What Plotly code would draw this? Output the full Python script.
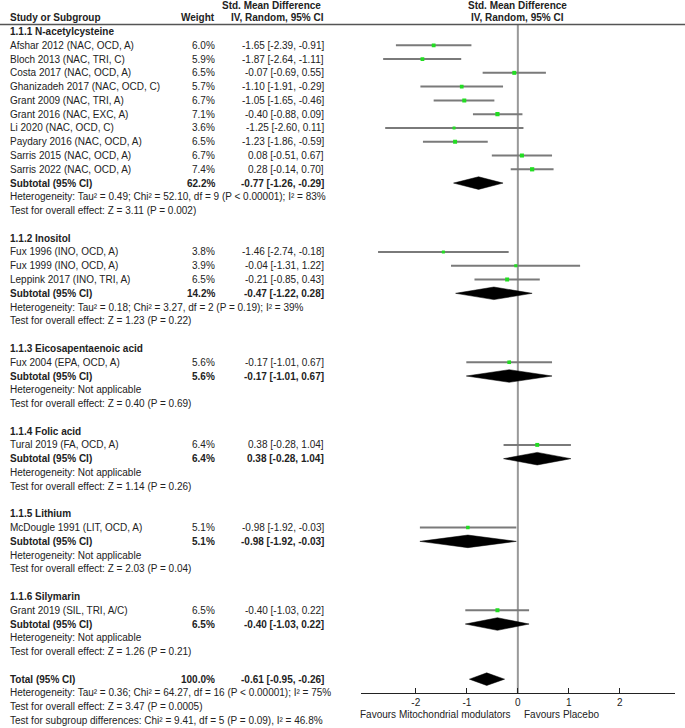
import plotly.graph_objects as go

W, H = 685, 728

# ---------------- data ----------------
group_titles = ["1.1.1 N-acetylcysteine", "1.1.2 Inositol", "1.1.3 Eicosapentaenoic acid",
                "1.1.4 Folic acid", "1.1.5 Lithium", "1.1.6 Silymarin"]

study_names = [
    ["Afshar 2012 (NAC, OCD, A)", "Bloch 2013 (NAC, TRI, C)", "Costa 2017 (NAC, OCD, A)",
     "Ghanizadeh 2017 (NAC, OCD, C)", "Grant 2009 (NAC, TRI, A)", "Grant 2016 (NAC, EXC, A)",
     "Li 2020 (NAC, OCD, C)", "Paydary 2016 (NAC, OCD, A)", "Sarris 2015 (NAC, OCD, A)",
     "Sarris 2022 (NAC, OCD, A)"],
    ["Fux 1996 (INO, OCD, A)", "Fux 1999 (INO, OCD, A)", "Leppink 2017 (INO, TRI, A)"],
    ["Fux 2004 (EPA, OCD, A)"],
    ["Tural 2019 (FA, OCD, A)"],
    ["McDougle 1991 (LIT, OCD, A)"],
    ["Grant 2019 (SIL, TRI, A/C)"],
]
study_weight = [
    [6.0, 5.9, 6.5, 5.7, 6.7, 7.1, 3.6, 6.5, 6.7, 7.4],
    [3.8, 3.9, 6.5],
    [5.6], [6.4], [5.1], [6.5],
]
study_est = [
    [-1.65, -1.87, -0.07, -1.10, -1.05, -0.40, -1.25, -1.23, 0.08, 0.28],
    [-1.46, -0.04, -0.21],
    [-0.17], [0.38], [-0.98], [-0.40],
]
study_lo = [
    [-2.39, -2.64, -0.69, -1.91, -1.65, -0.88, -2.60, -1.86, -0.51, -0.14],
    [-2.74, -1.31, -0.85],
    [-1.01], [-0.28], [-1.92], [-1.03],
]
study_hi = [
    [-0.91, -1.11, 0.55, -0.29, -0.46, 0.09, 0.11, -0.59, 0.67, 0.70],
    [-0.18, 1.22, 0.43],
    [0.67], [1.04], [-0.03], [0.22],
]

sub_weight = [62.2, 14.2, 5.6, 6.4, 5.1, 6.5]
sub_est = [-0.77, -0.47, -0.17, 0.38, -0.98, -0.40]
sub_lo = [-1.26, -1.22, -1.01, -0.28, -1.92, -1.03]
sub_hi = [-0.29, 0.28, 0.67, 1.04, -0.03, 0.22]
sub_het = [
    "Heterogeneity: Tau² = 0.49; Chi² = 52.10, df = 9 (P < 0.00001); I² = 83%",
    "Heterogeneity: Tau² = 0.18; Chi² = 3.27, df = 2 (P = 0.19); I² = 39%",
    "Heterogeneity: Not applicable",
    "Heterogeneity: Not applicable",
    "Heterogeneity: Not applicable",
    "Heterogeneity: Not applicable",
]
sub_test = [
    "Test for overall effect: Z = 3.11 (P = 0.002)",
    "Test for overall effect: Z = 1.23 (P = 0.22)",
    "Test for overall effect: Z = 0.40 (P = 0.69)",
    "Test for overall effect: Z = 1.14 (P = 0.26)",
    "Test for overall effect: Z = 2.03 (P = 0.04)",
    "Test for overall effect: Z = 1.26 (P = 0.21)",
]

total_weight = 100.0
total_est, total_lo, total_hi = -0.61, -0.95, -0.26
total_lines = [
    "Heterogeneity: Tau² = 0.36; Chi² = 64.27, df = 16 (P < 0.00001); I² = 75%",
    "Test for overall effect: Z = 3.47 (P = 0.0005)",
    "Test for subgroup differences: Chi² = 9.41, df = 5 (P = 0.09), I² = 46.8%",
]

tick_vals = [-2, -1, 0, 1, 2]
tick_text = ["-2", "-1", "0", "1", "2"]
x_range = [-3.08, 3.08]

# ---------------- layout helpers ----------------
Y0, STEP = 31.5, 13.78
FONT = "Liberation Sans, Arial, sans-serif"
TXT = "#222222"
FS = 10
X_NAME, X_W, X_CI = 8 / W, 216.5 / W, 325.5 / W


def row_y(k):
    return Y0 + STEP * k


def ci_text(e, lo, hi):
    return f"{e:.2f} [{lo:.2f}, {hi:.2f}]"


fig = go.Figure()
ann = []


def add_text(x, y, text, anchor="left", bold=False, xref="paper", size=FS):
    t = f"<b>{text}</b>" if bold else text
    ann.append(dict(x=x, y=y, xref=xref, yref="y", text=t, showarrow=False,
                    xanchor=anchor, yanchor="middle",
                    font=dict(family=FONT, size=size, color=TXT)))


def add_diamond(yc, e, lo, hi):
    fig.add_trace(go.Scatter(x=[lo, e, hi, e, lo], y=[yc, yc - 6.3, yc, yc + 6.3, yc],
                             mode="lines", fill="toself", fillcolor="black",
                             line=dict(color="black", width=0.5), hoverinfo="skip",
                             showlegend=False))


k = 0
for g in range(len(group_titles)):
    add_text(X_NAME, row_y(k), group_titles[g], bold=True)
    k += 1
    for i, name in enumerate(study_names[g]):
        y = row_y(k)
        e, lo, hi, w = study_est[g][i], study_lo[g][i], study_hi[g][i], study_weight[g][i]
        add_text(X_NAME, y, name)
        add_text(X_W, y, f"{w:.1f}%", anchor="right")
        add_text(X_CI, y, ci_text(e, lo, hi), anchor="right")
        fig.add_trace(go.Scatter(x=[lo, hi], y=[y, y], mode="lines",
                                 line=dict(color="#7a7a7a", width=2),
                                 hoverinfo="skip", showlegend=False))
        fig.add_trace(go.Scatter(x=[e], y=[y], mode="markers",
                                 marker=dict(symbol="square", color="#22dd22",
                                             size=1.55 * w ** 0.5, line=dict(width=0)),
                                 hoverinfo="skip", showlegend=False))
        k += 1
    y = row_y(k)
    add_text(X_NAME, y, "Subtotal (95% CI)", bold=True)
    add_text(X_W, y, f"{sub_weight[g]:.1f}%", anchor="right", bold=True)
    add_text(X_CI, y, ci_text(sub_est[g], sub_lo[g], sub_hi[g]), anchor="right", bold=True)
    add_diamond(y, sub_est[g], sub_lo[g], sub_hi[g])
    k += 1
    add_text(X_NAME, row_y(k), sub_het[g])
    k += 1
    add_text(X_NAME, row_y(k), sub_test[g])
    k += 2

y = row_y(k)
add_text(X_NAME, y, "Total (95% CI)", bold=True)
add_text(X_W, y, f"{total_weight:.1f}%", anchor="right", bold=True)
add_text(X_CI, y, ci_text(total_est, total_lo, total_hi), anchor="right", bold=True)
add_diamond(y, total_est, total_lo, total_hi)
for line in total_lines:
    k += 1
    add_text(X_NAME, row_y(k), line)

AXIS_Y = 693.3

# headers
add_text(X_NAME, 17, "Study or Subgroup", bold=True)
add_text(X_W, 17, "Weight", anchor="right", bold=True)
add_text(X_CI - 3 / W, 5, "Std. Mean Difference", anchor="right", bold=True)
add_text(X_CI, 17, "IV, Random, 95% CI", anchor="right", bold=True)
ann.append(dict(x=0, y=5, xref="x", yref="y", text="<b>Std. Mean Difference</b>", showarrow=False,
                xanchor="center", yanchor="middle", font=dict(family=FONT, size=FS, color=TXT)))
ann.append(dict(x=0, y=17, xref="x", yref="y", text="<b>IV, Random, 95% CI</b>", showarrow=False,
                xanchor="center", yanchor="middle", font=dict(family=FONT, size=FS, color=TXT)))
# favours labels
ann.append(dict(x=-0.09, y=714, xref="x", yref="y", text="Favours Mitochondrial modulators",
                showarrow=False, xanchor="right", yanchor="middle",
                font=dict(family=FONT, size=FS, color=TXT)))
ann.append(dict(x=0.08, y=714, xref="x", yref="y", text="Favours Placebo",
                showarrow=False, xanchor="left", yanchor="middle",
                font=dict(family=FONT, size=FS, color=TXT)))

shapes = [
    dict(type="line", xref="paper", yref="y", x0=0, x1=1, y0=24.5, y1=24.5,
         line=dict(color="#555555", width=1.5)),
    dict(type="line", xref="x", yref="y", x0=0, x1=0, y0=24.5, y1=AXIS_Y,
         line=dict(color="#999999", width=2), layer="below"),
]

x0p = 360.7 / W
x1p = 675.0 / W
fig.update_layout(
    width=W, height=H,
    margin=dict(l=0, r=0, t=0, b=0),
    paper_bgcolor="white", plot_bgcolor="white",
    showlegend=False,
    xaxis=dict(domain=[x0p, x1p], range=x_range, anchor="free",
               position=1 - AXIS_Y / H, showgrid=False, zeroline=False,
               showline=True, linecolor="#222222", linewidth=1,
               tickmode="array", tickvals=tick_vals, ticktext=tick_text,
               ticks="inside", ticklen=5, tickcolor="#222222", tickwidth=1,
               tickfont=dict(family=FONT, size=FS, color=TXT), fixedrange=True),
    yaxis=dict(domain=[0, 1], range=[H, 0], visible=False, fixedrange=True),
    annotations=ann,
    shapes=shapes,
)

fig.write_html(
    "out.html",
    config={"displayModeBar": False, "staticPlot": True},
    post_script="document.body.style.margin='0';document.body.style.overflow='hidden';",
)
